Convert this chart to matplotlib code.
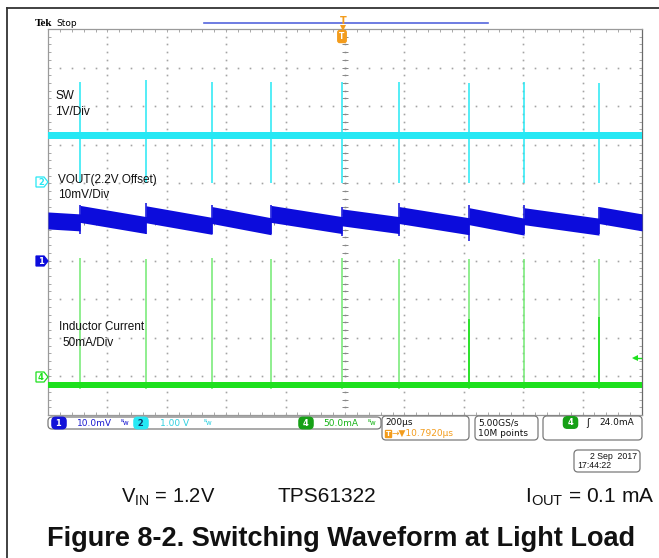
import matplotlib
matplotlib.use('Agg')
import matplotlib.pyplot as plt
from matplotlib.patches import FancyBboxPatch, Polygon
import numpy as np

plt.rcParams['font.family'] = ['Liberation Sans', 'DejaVu Sans']
plt.rcParams['mathtext.fontset'] = 'custom'
plt.rcParams['mathtext.rm'] = 'Liberation Sans'

W, H = 659, 558

# horizontal: 200 us/div, 10 div, trigger in the middle
time_span = [-1000, 1000]
spike_t = [-892, -670, -448, -249, -10, 182, 418, 603, 855]

# CH2  SW node, 1 V/div, ground marker at 6 div
sw_ground = 6.0
sw_idle = 1.25
sw_band = 0.09
sw_peak = [2.63, 2.68, 2.63, 2.63, 2.63, 2.63, 2.61, 2.63, 2.61]
sw_low = [0.0, 0.0, 0.0, 0.0, 0.0, 0.0, 0.0, 0.0, 0.0]

# CH1  VOUT (2.2 V offset), 10 mV/div, ground marker at 4 div
vout_ground = 4.0
vout_band = 2.2
vout_start = [10.4, 12.1, 12.0, 11.8, 12.1, 11.2, 11.8, 11.5, 11.5, 11.8]
vout_end = [9.9, 9.2, 9.0, 8.9, 9.2, 9.2, 8.9, 8.8, 8.8, 9.9]
vout_hi = [14.5, 14.8, 14.5, 14.5, 14.0, 14.8, 14.3, 14.3, 14.0]
vout_lo = [6.8, 6.8, 6.8, 6.8, 6.5, 6.5, 5.0, 6.8, 6.8]

# CH4  inductor current, 50 mA/div, ground marker at 1 div
il_ground = 1.0
il_base = -11.0
il_band = 4.3
il_peak = [153, 152, 154, 152, 154, 152, 152, 152, 152]
il_low = [-16, -16, -16, -16, -16, -16, -16, -16, -16]
il_bright_t = [418, 855]
il_bright_top = [75, 77]

CYAN = '#26e8f4'
BLUE = '#0c0cdc'
GREEN = '#1de01d'
LGREEN = '#72ea72'
ORANGE = '#f39c1c'
GRID = '#a4a4a4'

fig = plt.figure(figsize=(W / 100, H / 100), dpi=100)

# ---- graticule ----
ax = fig.add_axes([48 / W, 1 - 415 / H, 594 / W, 386 / H])
ax.set_xlim(*time_span)
ax.set_ylim(0, 10)
ax.set_xticks([])
ax.set_yticks([])
for s in ax.spines.values():
    s.set_color('#9a9a9a')
    s.set_linewidth(0.9)
ax.spines['right'].set_color('#6a6a6a')

sub_x = np.arange(-1000, 1001, 40)
sub_y = np.arange(0, 10.01, 0.2)
for gx in range(-800, 801, 200):
    ax.plot(np.full(len(sub_y), gx), sub_y, ls='none', marker='s', ms=1.2, mew=0, color=GRID)
for gy in range(1, 10):
    ax.plot(sub_x, np.full(len(sub_x), gy), ls='none', marker='s', ms=1.2, mew=0, color=GRID)
# centre cross and edge ticks
ax.plot(np.zeros(len(sub_y)), sub_y, ls='none', marker='_', ms=4.5, mew=0.7, color='#888888')
ax.plot(sub_x, np.full(len(sub_x), 5), ls='none', marker='|', ms=4.5, mew=0.7, color='#888888')
ax.plot(np.full(len(sub_y), -1000), sub_y, ls='none', marker='_', ms=4.5, mew=0.7, color='#a8a8a8')
ax.plot(np.full(len(sub_y), 1000), sub_y, ls='none', marker='_', ms=4.5, mew=0.7, color='#a8a8a8')
ax.plot(sub_x, np.full(len(sub_x), 10), ls='none', marker='|', ms=4.5, mew=0.7, color='#a8a8a8')
ax.plot(sub_x, np.zeros(len(sub_x)), ls='none', marker='|', ms=4.5, mew=0.7, color='#a8a8a8')

# ---- SW trace ----
ax.fill_between(time_span, sw_ground + sw_idle - sw_band, sw_ground + sw_idle + sw_band,
                color=CYAN, lw=0, zorder=3)
ax.vlines(spike_t, sw_ground + np.array(sw_low), sw_ground + np.array(sw_peak),
          color=CYAN, lw=1.1, zorder=3)

# ---- VOUT trace ----
knots = [time_span[0]] + spike_t + [time_span[1]]
vx, vy = [], []
for i in range(len(vout_start)):
    vx += [knots[i], knots[i + 1]]
    vy += [vout_start[i], vout_end[i]]
vx = np.array(vx)
vy = np.array(vy)
ax.fill_between(vx, vout_ground + (vy - vout_band) / 10, vout_ground + (vy + vout_band) / 10,
                color=BLUE, lw=0, zorder=3)
ax.vlines(spike_t, vout_ground + np.array(vout_lo) / 10, vout_ground + np.array(vout_hi) / 10,
          color=BLUE, lw=1.1, zorder=3)

# ---- inductor current trace ----
ax.vlines(spike_t, il_ground + np.array(il_low) / 50, il_ground + np.array(il_peak) / 50,
          color=LGREEN, lw=1.1, zorder=3)
ax.vlines(il_bright_t, il_ground + il_base / 50, il_ground + np.array(il_bright_top) / 50,
          color=GREEN, lw=1.2, zorder=3)
ax.fill_between(time_span, il_ground + (il_base - il_band) / 50, il_ground + (il_base + il_band) / 50,
                color=GREEN, lw=0, zorder=3)

# ---- overlay in pixel coordinates ----
ov = fig.add_axes([0, 0, 1, 1], zorder=5)
ov.set_xlim(0, W)
ov.set_ylim(H, 0)
ov.axis('off')
ov.patch.set_alpha(0)

ov.plot([7, 7], [8, H], color='#333333', lw=1.3)
ov.plot([7, W], [8, 8], color='#333333', lw=1.3)

ov.text(35, 23, 'Tek', family='Liberation Serif', weight='bold', fontsize=8, va='center')
ov.text(56, 23, 'Stop', family='DejaVu Sans', fontsize=6.5, va='center')
ov.plot([204, 488], [23, 23], color='#5566dd', lw=1.2)
ov.text(343, 21, 'T', color=ORANGE, weight='bold', fontsize=7, ha='center', va='center', family='DejaVu Sans')
ov.plot([343], [28], marker='v', ms=4, color=ORANGE, mew=0)
ov.text(342, 36.5, 'T', color='white', weight='bold', fontsize=5.5, ha='center', va='center',
        family='DejaVu Sans',
        bbox=dict(boxstyle='round,pad=0.2,rounding_size=0.25', fc=ORANGE, ec=ORANGE))


def flag(y, label, col, filled):
    pts = [(36, y - 5), (44, y - 5), (48, y), (44, y + 5), (36, y + 5)]
    ov.add_patch(Polygon(pts, closed=True, fc=col if filled else 'white', ec=col, lw=0.9))
    ov.text(41, y + 0.5, label, color='white' if filled else col, fontsize=6,
            ha='center', va='center', weight='bold', family='DejaVu Sans')


flag(182, '2', CYAN, False)
flag(261, '1', BLUE, True)
flag(377, '4', GREEN, False)
ov.plot([634, 641], [358, 358], color=GREEN, lw=1)
ov.plot([635], [358], marker='<', ms=4, color=GREEN, mew=0)

lab = dict(fontsize=8.5, va='center', ha='left', color='#111111')
ov.text(55, 96, 'SW', **lab)
ov.text(55, 112, '1V/Div', **lab)
ov.text(58, 180.5, 'VOUT(2.2V Offset)', **lab)
ov.text(58, 195, '10mV/Div', **lab)
ov.text(59, 327, 'Inductor Current', **lab)
ov.text(62, 343, '50mA/Div', **lab)


# status bar
def box(x0, y0, x1, y1):
    ov.add_patch(FancyBboxPatch((x0, y0), x1 - x0, y1 - y0,
                                boxstyle='round,pad=0,rounding_size=4',
                                fc='white', ec='#7a7a7a', lw=0.9))


box(48, 417, 381, 429)
box(382, 416, 469, 440)
box(475, 416, 538, 440)
box(543, 416, 642, 440)

st = dict(fontsize=6.5, va='center', ha='left', family='DejaVu Sans')


def pill(x, y, label, col):
    ov.text(x, y, label, color='white' if col != CYAN else '#0a3a6a', fontsize=6, weight='bold',
            ha='center', va='center', family='DejaVu Sans',
            bbox=dict(boxstyle='round,pad=0.15,rounding_size=0.45', fc=col, ec=col))


pill(59, 423, ' 1 ', '#1212d8')
ov.text(77, 423, '10.0mV', color='#1a1ad0', **st)
ov.text(121, 423, 'ᴮw', color='#1a1ad0', fontsize=5, va='center', family='DejaVu Sans')
pill(141, 423, ' 2 ', CYAN)
ov.text(160, 423, '1.00 V', color='#30d0e0', **st)
ov.text(204, 423, 'ᴮw', color='#30d0e0', fontsize=5, va='center', family='DejaVu Sans')
pill(306, 423, ' 4 ', '#16a016')
ov.text(323, 423, '50.0mA', color='#18b418', **st)
ov.text(368, 423, 'ᴮw', color='#18b418', fontsize=5, va='center', family='DejaVu Sans')

ov.text(385, 422.5, '200µs', color='#111111', **st)
ov.text(388, 433.5, 'T', color='white', fontsize=5, weight='bold', ha='center', va='center',
        family='DejaVu Sans', bbox=dict(boxstyle='square,pad=0.12', fc=ORANGE, ec=ORANGE))
ov.text(392, 433.5, '→▼10.7920µs', color=ORANGE, **st)
ov.text(478, 422.5, '5.00GS/s', color='#111111', **st)
ov.text(478, 433.5, '10M points', color='#111111', **st)
pill(570.5, 422.5, ' 4 ', '#16a016')
ov.text(586, 422.5, 'ʃ', color='#111111', fontsize=7, va='center', family='DejaVu Sans')
ov.text(599, 422.5, '24.0mA', color='#111111', **st)

# date box
ov.add_patch(FancyBboxPatch((574, 450), 66, 22, boxstyle='round,pad=0,rounding_size=4',
                            fc='white', ec='#7a7a7a', lw=0.9))
ov.text(637, 456.5, '2 Sep  2017', fontsize=6.3, ha='right', va='center', color='#111111')
ov.text(577, 466, '17:44:22', fontsize=6.3, ha='left', va='center', color='#111111')

# annotations under the screen shot
ov.text(121, 497, r'V$_{\mathrm{IN}}$ = 1.2V', fontsize=14.5, va='center', ha='left', color='#111111')
ov.text(277, 497, 'TPS61322', fontsize=15, va='center', ha='left', color='#111111')
ov.text(525, 497, r'I$_{\mathrm{OUT}}$ = 0.1 mA', fontsize=15, va='center', ha='left', color='#111111')
ov.text(341, 539, 'Figure 8-2. Switching Waveform at Light Load', fontsize=19.5, weight='bold',
        ha='center', va='center', color='#111111')

fig.savefig('out.png', dpi=100)
